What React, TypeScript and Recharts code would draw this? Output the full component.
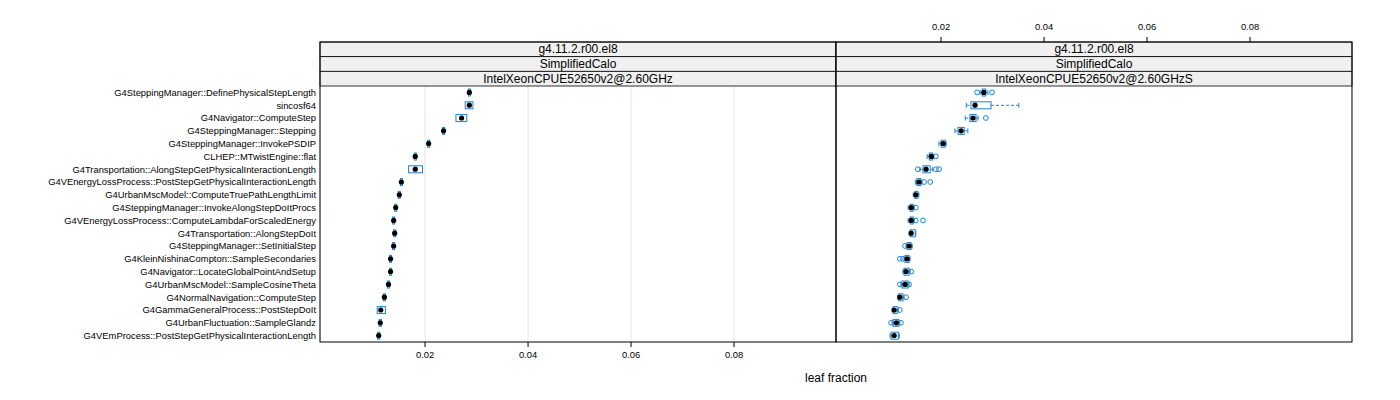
import { ComposedChart, Bar, Scatter, XAxis, YAxis, CartesianGrid } from "recharts";

const categories = [
  "G4SteppingManager::DefinePhysicalStepLength",
  "sincosf64",
  "G4Navigator::ComputeStep",
  "G4SteppingManager::Stepping",
  "G4SteppingManager::InvokePSDIP",
  "CLHEP::MTwistEngine::flat",
  "G4Transportation::AlongStepGetPhysicalInteractionLength",
  "G4VEnergyLossProcess::PostStepGetPhysicalInteractionLength",
  "G4UrbanMscModel::ComputeTruePathLengthLimit",
  "G4SteppingManager::InvokeAlongStepDoItProcs",
  "G4VEnergyLossProcess::ComputeLambdaForScaledEnergy",
  "G4Transportation::AlongStepDoIt",
  "G4SteppingManager::SetInitialStep",
  "G4KleinNishinaCompton::SampleSecondaries",
  "G4Navigator::LocateGlobalPointAndSetup",
  "G4UrbanMscModel::SampleCosineTheta",
  "G4NormalNavigation::ComputeStep",
  "G4GammaGeneralProcess::PostStepDoIt",
  "G4UrbanFluctuation::SampleGlandz",
  "G4VEmProcess::PostStepGetPhysicalInteractionLength",
];

const stripLines = ["g4.11.2.r00.el8", "SimplifiedCalo"];
const panelHosts = ["IntelXeonCPUE52650v2@2.60GHz", "IntelXeonCPUE52650v2@2.60GHzS"];
const xTicks = [0.02, 0.04, 0.06, 0.08];
const xDomain = [-0.0004, 0.0998];

// left panel
const leftMed = [0.0286, 0.0286, 0.0271, 0.0236, 0.0207, 0.0181, 0.0181, 0.0154, 0.015, 0.0143, 0.0139, 0.0141, 0.0139, 0.0133, 0.0133, 0.0129, 0.0121, 0.0114, 0.0113, 0.011];
const leftQ1 = [0.0284, 0.0278, 0.026, 0.0234, 0.0205, 0.0179, 0.0168, 0.0152, 0.0148, 0.0141, 0.0137, 0.0139, 0.0137, 0.0131, 0.0131, 0.0127, 0.0119, 0.0107, 0.0111, 0.0108];
const leftQ3 = [0.0288, 0.0293, 0.0281, 0.0238, 0.0209, 0.0183, 0.0195, 0.0156, 0.0152, 0.0145, 0.0141, 0.0143, 0.0141, 0.0135, 0.0135, 0.0131, 0.0123, 0.0123, 0.0115, 0.0112];
const leftLo = leftQ1;
const leftHi = leftQ3;
const leftOut: number[][] = categories.map(() => []);

// right panel
const rightMed = [0.0283, 0.0266, 0.0262, 0.0239, 0.0204, 0.0181, 0.0171, 0.0157, 0.0151, 0.0142, 0.0142, 0.0142, 0.0138, 0.0134, 0.0132, 0.013, 0.012, 0.0109, 0.0113, 0.0109];
const rightQ1 = [0.028, 0.0258, 0.0256, 0.0233, 0.02, 0.0177, 0.0165, 0.0153, 0.0149, 0.014, 0.014, 0.014, 0.0134, 0.013, 0.0128, 0.0124, 0.0118, 0.0107, 0.0107, 0.0103];
const rightQ3 = [0.0287, 0.0297, 0.0268, 0.0245, 0.0208, 0.0184, 0.0179, 0.0161, 0.0155, 0.0146, 0.0146, 0.015, 0.0142, 0.0138, 0.0138, 0.0136, 0.0126, 0.0115, 0.0118, 0.0117];
const rightLo = [0.0276, 0.0249, 0.0247, 0.0227, 0.0196, 0.0173, 0.0159, 0.015, 0.0146, 0.0136, 0.0136, 0.0138, 0.0132, 0.0128, 0.0126, 0.0122, 0.0116, 0.0105, 0.0105, 0.0101];
const rightHi = [0.0291, 0.0351, 0.0272, 0.0252, 0.021, 0.0186, 0.0184, 0.0163, 0.0157, 0.0148, 0.0148, 0.0151, 0.0144, 0.014, 0.014, 0.0138, 0.0128, 0.0117, 0.012, 0.0119];
const rightOut: number[][] = [
  [0.027, 0.0299], [], [0.0287], [], [], [0.019], [0.0155, 0.019, 0.0196], [0.0167, 0.0179], [], [0.0151],
  [0.0151, 0.0165], [], [0.013], [0.012, 0.0126], [0.0142], [0.012, 0.0138], [0.0132], [0.012], [0.0103, 0.0122], [],
];

const BLUE = "#1f82cf";
const FONT = "'Liberation Sans', Arial, sans-serif";
const PANEL_W = 516;
const LEFT_X = 320;
const TOP = 42;
const STRIP_H = 44 / 3;
const BOTTOM = 342;

type Row = { name: string; med: number; q1: number; q3: number; lo: number; hi: number; out: number[] };

function makeRows(med: number[], q1: number[], q3: number[], lo: number[], hi: number[], out: number[][]): Row[] {
  return categories.map((name, i) => ({ name, med: med[i], q1: q1[i], q3: q3[i], lo: lo[i], hi: hi[i], out: out[i] }));
}

const leftRows = makeRows(leftMed, leftQ1, leftQ3, leftLo, leftHi, leftOut);
const rightRows = makeRows(rightMed, rightQ1, rightQ3, rightLo, rightHi, rightOut);

function BoxShape(props: any) {
  const { x, y, width, height, payload } = props;
  if (payload == null || !(width > 0)) return <g />;
  const { lo, hi, q1, q3 } = payload;
  const k = width / (hi - lo);
  const px = (v: number) => x + (v - lo) * k;
  const cy = y + height / 2;
  const cap = height * 0.7;
  return (
    <g>
      {q1 > lo && (
        <>
          <line x1={px(lo)} x2={px(q1)} y1={cy} y2={cy} stroke={BLUE} strokeDasharray="3 2" />
          <line x1={px(lo)} x2={px(lo)} y1={cy - cap / 2} y2={cy + cap / 2} stroke={BLUE} />
        </>
      )}
      {hi > q3 && (
        <>
          <line x1={px(q3)} x2={px(hi)} y1={cy} y2={cy} stroke={BLUE} strokeDasharray="3 2" />
          <line x1={px(hi)} x2={px(hi)} y1={cy - cap / 2} y2={cy + cap / 2} stroke={BLUE} />
        </>
      )}
      <rect x={px(q1)} y={y} width={px(q3) - px(q1)} height={height} fill="none" stroke={BLUE} />
    </g>
  );
}

function Dot(props: any) {
  const { cx, cy } = props;
  if (cx == null || cy == null || isNaN(cx)) return <g />;
  return <circle cx={cx} cy={cy} r={2.6} fill="#000" />;
}

function Ring(props: any) {
  const { cx, cy } = props;
  if (cx == null || cy == null || isNaN(cx)) return <g />;
  return <circle cx={cx} cy={cy} r={2.4} fill="none" stroke={BLUE} strokeWidth={1} />;
}

const tickStyle = { fontSize: 9.4, fill: "#000", fontFamily: FONT };

function Panel({ rows, withLabels, labelsOnTop }: { rows: Row[]; withLabels: boolean; labelsOnTop: boolean }) {
  const width = withLabels ? LEFT_X + PANEL_W : PANEL_W;
  return (
    <ComposedChart
      width={width}
      height={400}
      data={rows}
      layout="vertical"
      margin={{ top: TOP - 30, right: 0, bottom: 400 - BOTTOM - 30, left: 0 }}
    >
      <CartesianGrid horizontal={false} stroke="#e6e6e6" />
      <XAxis
        type="number"
        domain={xDomain}
        ticks={xTicks}
        allowDataOverflow
        height={30}
        axisLine={false}
        tickSize={5}
        tickMargin={4}
        tickLine={{ stroke: "#000" }}
        tick={labelsOnTop ? false : tickStyle}
      />
      <XAxis
        xAxisId="top"
        orientation="top"
        type="number"
        domain={xDomain}
        ticks={xTicks}
        allowDataOverflow
        height={30}
        axisLine={false}
        tickSize={5}
        tickMargin={7}
        tickLine={{ stroke: "#000" }}
        tick={labelsOnTop ? tickStyle : false}
      />
      <YAxis
        type="category"
        dataKey="name"
        allowDuplicatedCategory={false}
        hide={!withLabels}
        width={withLabels ? LEFT_X : 0}
        padding={{ top: 3 * STRIP_H, bottom: 0 }}
        axisLine={false}
        tickLine={false}
        tickSize={2}
        tickMargin={2}
        interval={0}
        tick={tickStyle}
      />
      <Bar dataKey={(d: Row) => [d.lo, d.hi]} barSize={7} shape={<BoxShape />} isAnimationActive={false} />
      <Scatter dataKey={(d: Row) => d.out[0]} shape={<Ring />} isAnimationActive={false} />
      <Scatter dataKey={(d: Row) => d.out[1]} shape={<Ring />} isAnimationActive={false} />
      <Scatter dataKey={(d: Row) => d.out[2]} shape={<Ring />} isAnimationActive={false} />
      <Scatter dataKey="med" shape={<Dot />} isAnimationActive={false} />
    </ComposedChart>
  );
}

function Frames() {
  const panels = [LEFT_X, LEFT_X + PANEL_W];
  return (
    <svg width={1400} height={400} style={{ position: "absolute", left: 0, top: 0, pointerEvents: "none" }}>
      {panels.map((x0, p) => (
        <g key={p}>
          {[...stripLines, panelHosts[p]].map((label, i) => (
            <g key={i}>
              <rect x={x0} y={TOP + i * STRIP_H} width={PANEL_W} height={STRIP_H} fill="#f0f0f0" stroke="#000" strokeWidth={0.8} />
              <text
                x={x0 + PANEL_W / 2}
                y={TOP + i * STRIP_H + STRIP_H / 2 + 4}
                textAnchor="middle"
                fontSize={12}
                fontFamily={FONT}
                fill="#000"
              >
                {label}
              </text>
            </g>
          ))}
          <rect x={x0} y={TOP} width={PANEL_W} height={BOTTOM - TOP} fill="none" stroke="#000" strokeWidth={1} />
        </g>
      ))}
      <text x={LEFT_X + PANEL_W} y={382} textAnchor="middle" fontSize={12} fontFamily={FONT} fill="#000">
        leaf fraction
      </text>
    </svg>
  );
}

export default function App() {
  return (
    <div style={{ position: "absolute", left: 0, top: 0, width: 1400, height: 400, background: "#fff" }}>
      <div style={{ position: "absolute", left: 0, top: 0 }}>
        <Panel rows={leftRows} withLabels labelsOnTop={false} />
      </div>
      <div style={{ position: "absolute", left: LEFT_X + PANEL_W, top: 0 }}>
        <Panel rows={rightRows} withLabels={false} labelsOnTop />
      </div>
      <Frames />
    </div>
  );
}
